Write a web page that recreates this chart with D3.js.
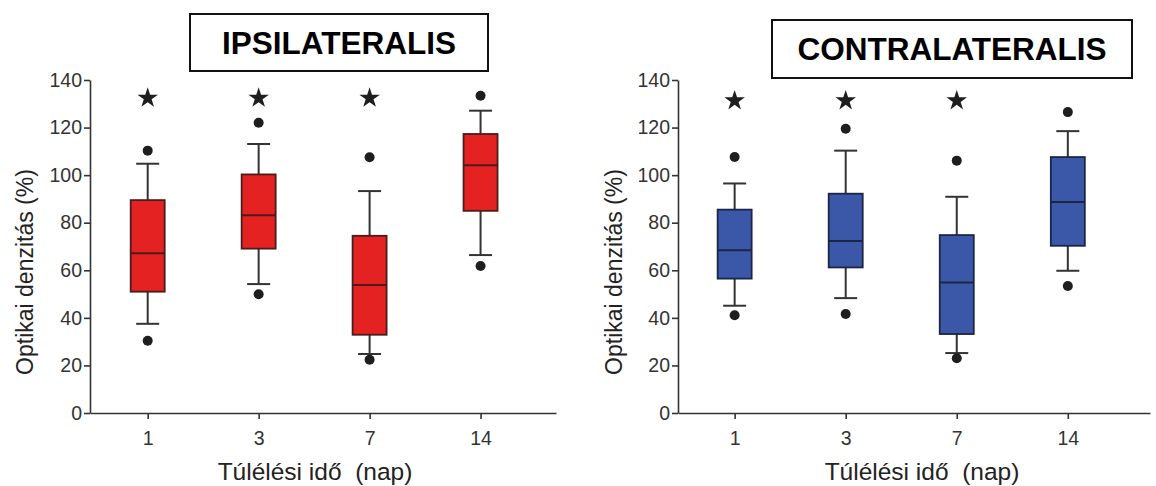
<!DOCTYPE html>
<html>
<head>
<meta charset="utf-8">
<script src="https://cdn.jsdelivr.net/npm/d3@7"></script>
<style>
  body { margin: 0; background: #fff; }
  svg { display: block; font-family: Arial, "Liberation Sans", sans-serif; }
</style>
</head>
<body>
<svg id="chart" width="1156" height="486"></svg>
<script>
const days = ["1", "3", "7", "14"];
const yTicks = [0, 20, 40, 60, 80, 100, 120, 140];

// ipsilateralis
const ipsiOutHigh = [110.3, 122.0, 107.5, 133.4];
const ipsiWhiskHigh = [104.8, 113.1, 93.3, 127.1];
const ipsiQ3 = [89.5, 100.3, 74.5, 117.3];
const ipsiMedian = [67.2, 83.1, 53.8, 104.2];
const ipsiQ1 = [51.0, 69.1, 32.9, 85.0];
const ipsiWhiskLow = [37.5, 54.2, 24.8, 66.4];
const ipsiOutLow = [30.4, 49.9, 22.4, 61.8];
const ipsiStar = [132.4, 132.4, 132.4, null];

// contralateralis
const contraOutHigh = [107.6, 119.5, 106.1, 126.5];
const contraWhiskHigh = [96.5, 110.3, 90.9, 118.5];
const contraQ3 = [85.5, 92.2, 74.8, 107.6];
const contraMedian = [68.4, 72.3, 54.9, 88.7];
const contraQ1 = [56.5, 61.2, 33.2, 70.3];
const contraWhiskLow = [45.1, 48.3, 25.2, 59.8];
const contraOutLow = [41.1, 41.6, 23.0, 53.4];
const contraStar = [131.3, 131.3, 131.3, null];

function rows(outHigh, whiskHigh, q3, med, q1, whiskLow, outLow, star) {
    return days.map((d, i) => ({
        i: i, day: d, outHigh: outHigh[i], whiskHigh: whiskHigh[i], q3: q3[i],
        median: med[i], q1: q1[i], whiskLow: whiskLow[i], outLow: outLow[i], star: star[i]
    }));
}

const svg = d3.select("#chart");

function draw_panel(opts) {
    const data = opts.data;
    const x = d3.scaleLinear().domain(opts.xDomain).range(opts.xRange);
    const y = d3.scaleLinear().domain([0, 140]).range([413, 80]);
    const g = svg.append("g");

    // axes
    const yAxis = g.append("g")
        .attr("transform", "translate(" + opts.xRange[0] + ",0)")
        .call(d3.axisLeft(y).tickValues(yTicks).tickSize(6).tickSizeOuter(0).tickPadding(2));
    const xAxis = g.append("g")
        .attr("transform", "translate(0," + y(0) + ")")
        .call(d3.axisBottom(x).tickValues([0, 1, 2, 3]).tickFormat(i => days[i])
            .tickSize(6).tickSizeOuter(0).tickPadding(12));
    [yAxis, xAxis].forEach(a => {
        a.attr("font-size", null).attr("font-family", null);
        a.selectAll("path, line").attr("stroke", "#333").attr("stroke-width", 1.6);
        a.selectAll("text").attr("fill", "#333")
            .style("font-size", "19.5px")
            .style("font-family", "Arial, 'Liberation Sans', sans-serif");
    });

    const box_w = 34, cap_w = 23;
    const bx = g.append("g").selectAll("g").data(data).join("g");

    // whiskers
    bx.append("line")
        .attr("x1", d => x(d.i)).attr("x2", d => x(d.i))
        .attr("y1", d => y(d.whiskHigh)).attr("y2", d => y(d.whiskLow))
        .attr("stroke", "#333").attr("stroke-width", 2);
    ["whiskHigh", "whiskLow"].forEach(k => {
        bx.append("line")
            .attr("x1", d => x(d.i) - cap_w / 2).attr("x2", d => x(d.i) + cap_w / 2)
            .attr("y1", d => y(d[k])).attr("y2", d => y(d[k]))
            .attr("stroke", "#333").attr("stroke-width", 2);
    });

    // boxes
    bx.append("rect")
        .attr("x", d => x(d.i) - box_w / 2)
        .attr("width", box_w)
        .attr("y", d => y(d.q3))
        .attr("height", d => y(d.q1) - y(d.q3))
        .attr("fill", opts.fill)
        .attr("stroke", opts.stroke)
        .attr("stroke-width", 1.8);
    bx.append("line")
        .attr("x1", d => x(d.i) - box_w / 2).attr("x2", d => x(d.i) + box_w / 2)
        .attr("y1", d => y(d.median)).attr("y2", d => y(d.median))
        .attr("stroke", opts.stroke).attr("stroke-width", 2);

    // outliers
    ["outHigh", "outLow"].forEach(k => {
        bx.append("circle")
            .attr("cx", d => x(d.i)).attr("cy", d => y(d[k]))
            .attr("r", 5).attr("fill", "#1e1e1e");
    });

    // significance stars
    g.append("g").selectAll("path")
        .data(data.filter(d => d.star != null))
        .join("path")
        .attr("d", d3.symbol(d3.symbolStar, 130))
        .attr("transform", d => "translate(" + x(d.i) + "," + y(d.star) + ")")
        .attr("fill", "#1e1e1e");

    // axis titles
    g.append("text")
        .attr("transform", "translate(" + opts.yLabelX + ",272) rotate(-90)")
        .attr("text-anchor", "middle")
        .attr("font-size", "23px")
        .attr("fill", "#222")
        .text("Optikai denzitás (%)");
    g.append("text")
        .attr("x", opts.xLabelX).attr("y", 480)
        .attr("text-anchor", "middle")
        .attr("font-size", "24.5px")
        .attr("fill", "#222")
        .style("white-space", "pre")
        .text("Túlélési idő  (nap)");

    // title box
    const t = opts.title;
    g.append("rect")
        .attr("x", t.x).attr("y", t.y).attr("width", t.w).attr("height", t.h)
        .attr("fill", "#fff").attr("stroke", "#111").attr("stroke-width", 2);
    g.append("text")
        .attr("x", t.x + t.w / 2).attr("y", t.y + t.h / 2 + 11)
        .attr("text-anchor", "middle")
        .attr("font-size", "31.5px")
        .attr("font-weight", "bold")
        .attr("fill", "#000")
        .text(t.text);
}

draw_panel({
    data: rows(ipsiOutHigh, ipsiWhiskHigh, ipsiQ3, ipsiMedian, ipsiQ1, ipsiWhiskLow, ipsiOutLow, ipsiStar),
    xDomain: [-0.52, 3.68], xRange: [90, 556],
    fill: "#e52222", stroke: "#4a1c1c",
    yLabelX: 33, xLabelX: 315,
    title: {x: 190, y: 14, w: 298, h: 57, text: "IPSILATERALIS"}
});

draw_panel({
    data: rows(contraOutHigh, contraWhiskHigh, contraQ3, contraMedian, contraQ1, contraWhiskLow, contraOutLow, contraStar),
    xDomain: [-0.51, 3.74], xRange: [678, 1150],
    fill: "#3b58a8", stroke: "#1c2545",
    yLabelX: 622, xLabelX: 922,
    title: {x: 772, y: 20, w: 360, h: 58, text: "CONTRALATERALIS"}
});
</script>
</body>
</html>
